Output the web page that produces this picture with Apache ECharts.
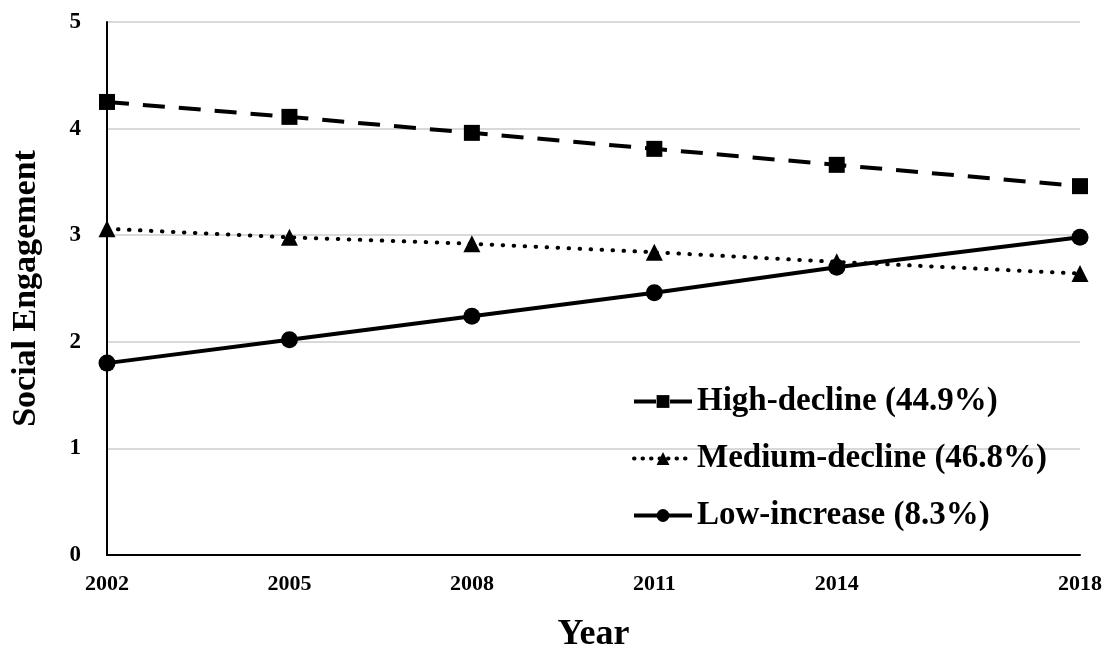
<!DOCTYPE html>
<html>
<head>
<meta charset="utf-8">
<script src="https://cdn.jsdelivr.net/npm/echarts@6/dist/echarts.min.js"></script>
<style>
  html, body { margin: 0; padding: 0; background: #fff; }
  #main { width: 1107px; height: 655px; }
</style>
</head>
<body>
<div id="main"></div>
<script>
// years measured, social engagement per trajectory group
var years = [2002, 2005, 2008, 2011, 2014, 2018];
var highDecline = [4.25, 4.11, 3.96, 3.81, 3.66, 3.46];
var mediumDecline = [3.06, 2.98, 2.92, 2.84, 2.75, 2.64];
var lowIncrease = [1.80, 2.02, 2.24, 2.46, 2.70, 2.98];
var seriesNames = ['High-decline (44.9%)', 'Medium-decline (46.8%)', 'Low-increase (8.3%)'];
var yTicks = [0, 1, 2, 3, 4, 5];

function pairs(vals) {
    var out = [];
    for (var i = 0; i < years.length; i++) {
        out.push([years[i], vals[i]]);
    }
    return out;
}

var font = 'Liberation Serif, Times New Roman, serif';
var dashed = [22, 14];
var dotted = [0.5, 10.5];

var myChart = echarts.init(document.getElementById('main'));

var option = {
    backgroundColor: '#fff',
    animation: false,
    grid: { left: 107, right: 27, top: 22, bottom: 100, outerBoundsMode: 'none' },
    legend: {
        orient: 'vertical',
        left: 627,
        top: 380,
        itemWidth: 58,
        itemHeight: 16,
        itemGap: 24,
        textStyle: { fontFamily: font, fontWeight: 'bold', fontSize: 33, color: '#000' },
        data: [
            { name: seriesNames[0], lineStyle: { type: dashed, width: 4 } },
            { name: seriesNames[1], lineStyle: { type: [0.5, 8], width: 4, cap: 'round' } },
            { name: seriesNames[2], lineStyle: { width: 4 } }
        ]
    },
    xAxis: {
        type: 'value',
        min: 2002,
        max: 2018,
        name: 'Year',
        nameLocation: 'middle',
        nameGap: 62,
        nameTextStyle: { fontFamily: font, fontWeight: 'bold', fontSize: 36, color: '#000' },
        axisLine: { show: true, lineStyle: { color: '#000', width: 2 } },
        axisTick: { show: false },
        splitLine: { show: false },
        axisLabel: {
            customValues: years,
            margin: 18,
            fontFamily: font, fontWeight: 'bold', fontSize: 22, color: '#000',
            formatter: function (v) { return String(v); }
        }
    },
    yAxis: {
        type: 'value',
        min: 0,
        max: 5,
        interval: 1,
        name: 'Social Engagement',
        nameLocation: 'middle',
        nameGap: 64,
        nameTextStyle: { fontFamily: font, fontWeight: 'bold', fontSize: 34, color: '#000' },
        axisLine: { show: true, lineStyle: { color: '#000', width: 2 } },
        axisTick: { show: false },
        splitLine: { show: true, lineStyle: { color: '#d9d9d9', width: 2 } },
        axisLabel: {
            margin: 26,
            fontFamily: font, fontWeight: 'bold', fontSize: 23, color: '#000',
            formatter: function (v) { return yTicks.indexOf(v) >= 0 ? String(v) : ''; }
        }
    },
    series: [
        {
            name: seriesNames[0],
            type: 'line',
            data: pairs(highDecline),
            symbol: 'rect',
            symbolSize: 16,
            itemStyle: { color: '#000' },
            lineStyle: { color: '#000', width: 4, type: dashed }
        },
        {
            name: seriesNames[1],
            type: 'line',
            data: pairs(mediumDecline),
            symbol: 'triangle',
            symbolSize: 17,
            itemStyle: { color: '#000' },
            lineStyle: { color: '#000', width: 4, type: dotted, cap: 'round' }
        },
        {
            name: seriesNames[2],
            type: 'line',
            data: pairs(lowIncrease),
            symbol: 'circle',
            symbolSize: 17,
            itemStyle: { color: '#000' },
            lineStyle: { color: '#000', width: 4 }
        }
    ]
};

myChart.setOption(option);
</script>
</body>
</html>
